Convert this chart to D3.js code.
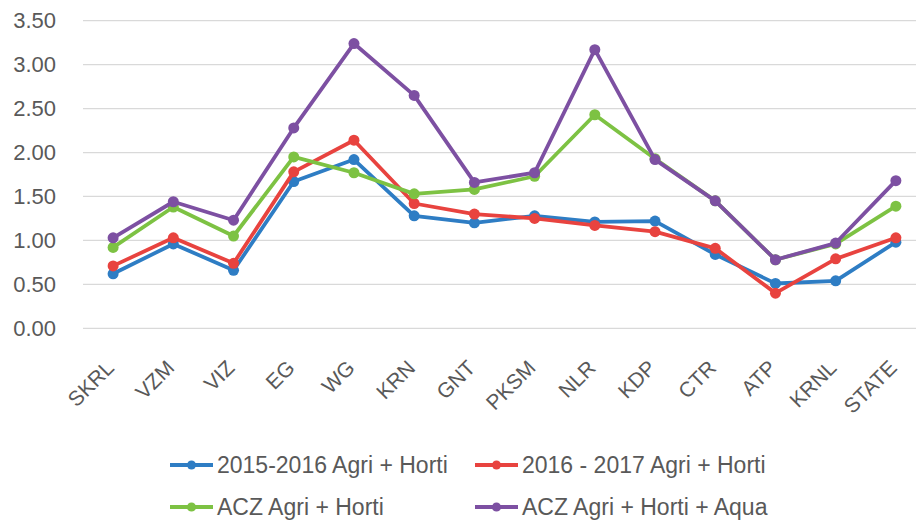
<!DOCTYPE html>
<html>
<head>
<meta charset="utf-8">
<script src="https://cdn.jsdelivr.net/npm/d3@7"></script>
<style>
  body { margin: 0; background: #fff; }
  svg { display: block; }
  text { font-family: "Liberation Sans", Arial, sans-serif; fill: #595959; }
</style>
</head>
<body>
<svg id="chart" width="916" height="520"></svg>
<script>
// data
const districts = ['SKRL', 'VZM', 'VIZ', 'EG', 'WG', 'KRN', 'GNT', 'PKSM', 'NLR', 'KDP', 'CTR', 'ATP', 'KRNL', 'STATE'];
const agriHorti1516 = [0.62, 0.96, 0.66, 1.67, 1.92, 1.28, 1.20, 1.28, 1.21, 1.22, 0.84, 0.51, 0.54, 0.98];
const agriHorti1617 = [0.71, 1.03, 0.74, 1.78, 2.14, 1.42, 1.30, 1.25, 1.17, 1.10, 0.91, 0.40, 0.79, 1.03];
const aczAgriHorti = [0.92, 1.38, 1.05, 1.95, 1.77, 1.53, 1.58, 1.73, 2.43, 1.93, 1.45, 0.78, 0.96, 1.39];
const aczAgriHortiAqua = [1.03, 1.44, 1.23, 2.28, 3.24, 2.65, 1.66, 1.77, 3.17, 1.92, 1.45, 0.78, 0.97, 1.68];
const yTicks = [0, 0.5, 1, 1.5, 2, 2.5, 3, 3.5];

const series = [
  { name: '2015-2016 Agri + Horti', values: agriHorti1516, color: '#2E7DC4' },
  { name: '2016 - 2017 Agri + Horti', values: agriHorti1617, color: '#E8433F' },
  { name: 'ACZ Agri + Horti', values: aczAgriHorti, color: '#7DC243' },
  { name: 'ACZ Agri + Horti + Aqua', values: aczAgriHortiAqua, color: '#7D50A2' }
];

var svg = d3.select('#chart');

var x = d3.scalePoint().domain(districts).range([83, 926]).padding(0.5);
var y = d3.scaleLinear().domain([0, 3.5]).range([328.3, 20.7]);

// gridlines
svg.append('g')
  .selectAll('line')
  .data(yTicks)
  .join('line')
  .attr('x1', 83).attr('x2', 916)
  .attr('y1', d => y(d)).attr('y2', d => y(d))
  .attr('stroke', '#d9d9d9')
  .attr('stroke-width', 1.3);

// y labels
var yAxis = svg.append('g')
  .attr('transform', 'translate(56,0)')
  .call(d3.axisLeft(y).tickValues(yTicks).tickFormat(d3.format('.2f')).tickSize(0).tickPadding(0));
yAxis.select('.domain').remove();
yAxis.selectAll('text')
  .style('font-size', '22px')
  .style('font-family', '"Liberation Sans", Arial, sans-serif')
  .attr('fill', '#595959');

// x labels, rotated
svg.append('g')
  .selectAll('text')
  .data(districts)
  .join('text')
  .attr('transform', d => 'translate(' + (x(d) - 3) + ',364) rotate(-45)')
  .attr('text-anchor', 'end')
  .attr('dy', '0.35em')
  .style('font-size', '21px')
  .text(d => d);

// lines + markers
var line = d3.line()
  .x((d, i) => x(districts[i]))
  .y(d => y(d));

series.forEach(function(s) {
  var g = svg.append('g');
  g.append('path')
    .datum(s.values)
    .attr('d', line)
    .attr('fill', 'none')
    .attr('stroke', s.color)
    .attr('stroke-width', 3.8)
    .attr('stroke-linejoin', 'round');
  g.selectAll('circle')
    .data(s.values)
    .join('circle')
    .attr('cx', (d, i) => x(districts[i]))
    .attr('cy', d => y(d))
    .attr('r', 5.5)
    .attr('fill', s.color);
});

// legend
var legendPos = [[170, 465], [475, 465], [170, 507], [475, 507]];
series.forEach(function(s, i) {
  var p = legendPos[i];
  var lg = svg.append('g').attr('transform', 'translate(' + p[0] + ',' + p[1] + ')');
  lg.append('line')
    .attr('x1', 0).attr('x2', 43)
    .attr('stroke', s.color)
    .attr('stroke-width', 3.8);
  lg.append('circle')
    .attr('cx', 21.5).attr('r', 4.5)
    .attr('fill', s.color);
  lg.append('text')
    .attr('x', 47)
    .attr('dy', '0.35em')
    .style('font-size', '23px')
    .text(s.name);
});
</script>
</body>
</html>
